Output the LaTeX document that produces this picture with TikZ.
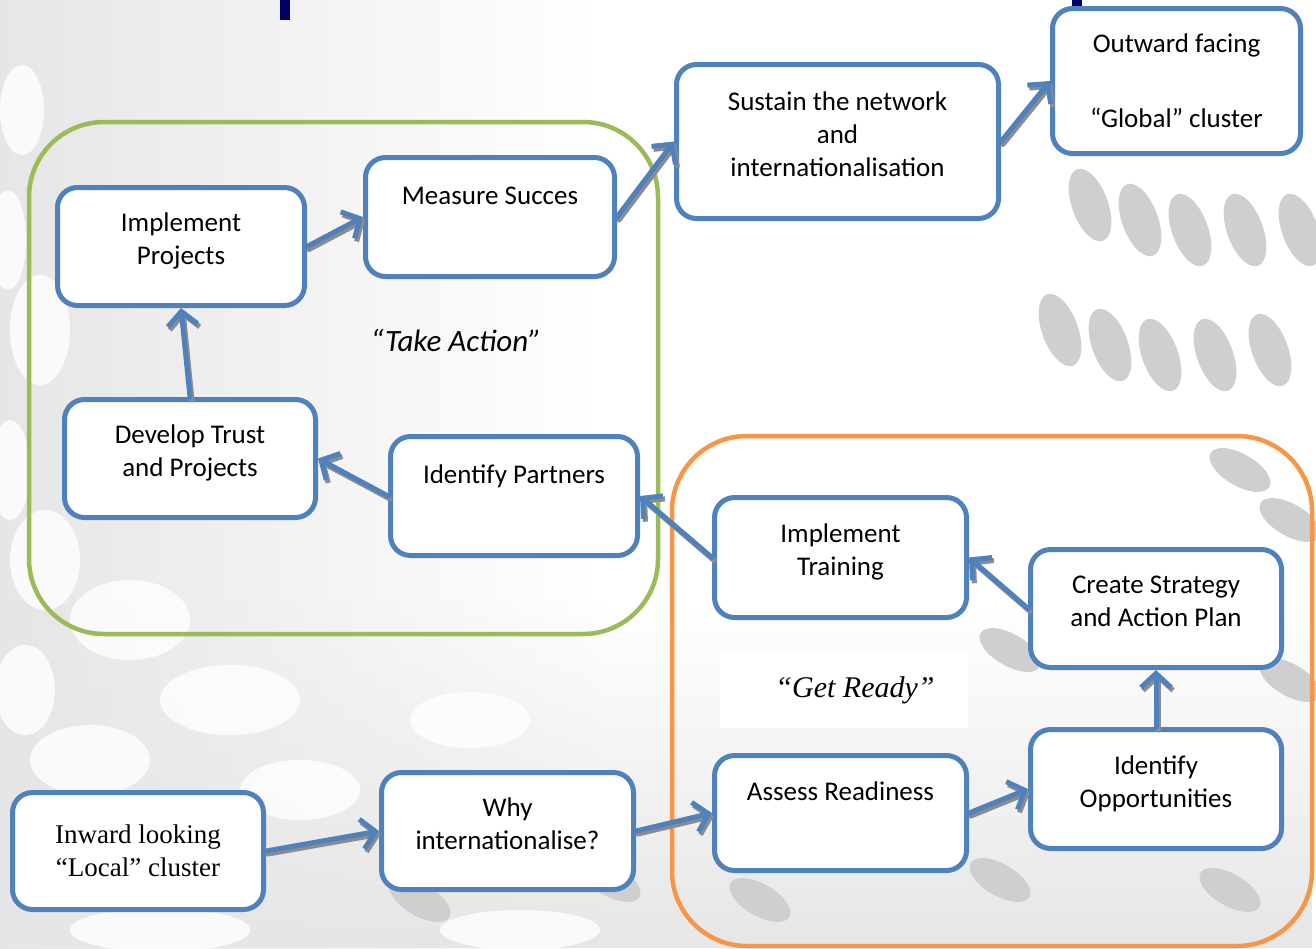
\documentclass[tikz,border=0pt]{standalone}
\usepackage{fontspec}
\setmainfont{Carlito}
\newfontfamily\timesfont{Liberation Serif}
\usetikzlibrary{arrows.meta,fadings}

\definecolor{boxblue}{HTML}{4F81BD}
\definecolor{framegreen}{HTML}{9BBB59}
\definecolor{frameorange}{HTML}{F79646}
\definecolor{titlenavy}{HTML}{000066}
\definecolor{shadowgray}{HTML}{8C8C8C}
\definecolor{dotgray}{HTML}{CFCFCF}
\definecolor{pale}{HTML}{E6E6E6}

\tikzset{
  stepbox/.style={draw=boxblue, line width=5pt, rounded corners=20pt, fill=white,
    align=center, inner sep=0pt, font=\fontsize{27}{33}\selectfont},
  lift/.style={text depth=15pt},
  flow/.style={draw=boxblue, line width=5pt, line cap=round,
    -{Straight Barb[length=14pt,width=30pt]}},
  flowshadow/.style={flow, draw=shadowgray, transform canvas={shift={(2pt,-3pt)}}},
  frame/.style={line width=4.5pt, rounded corners=75pt},
  blob/.style={fill=white, opacity=0.8},
  spot/.style={fill=dotgray},
}

\begin{document}
\begin{tikzpicture}[x=1pt,y=-1pt]
\useasboundingbox (0,0) rectangle (1316,948);

% backdrop: pale field with soft ovals on the left, grey ovals on the right
\shade[left color=pale, right color=white] (0,0) rectangle (600,948);
\fill[pale, path fading=north] (0,600) rectangle (1316,948);
\foreach \x/\y/\rx/\ry in {22/110/22/45, 8/240/18/50, 40/330/30/55, 10/470/20/50,
  45/560/35/50, 130/620/60/40, 230/700/70/35, 90/760/60/35, 300/790/60/30,
  25/690/30/45, 470/720/60/28, 160/930/90/22, 520/930/80/20}
  \fill[blob] (\x,\y) ellipse[x radius=\rx, y radius=\ry];
\foreach \x/\y in {1090/205, 1140/220, 1190/230, 1245/230, 1300/230,
  1060/330, 1110/345, 1160/355, 1215/355, 1270/350}
  \fill[spot, rotate around={20:(\x,\y)}] (\x,\y) ellipse[x radius=18, y radius=38];
\foreach \x/\y in {1240/470, 1290/520, 1010/650, 1290/680, 760/900, 1000/880, 1230/890, 420/900, 610/880}
  \fill[spot, rotate around={-30:(\x,\y)}] (\x,\y) ellipse[x radius=34, y radius=16];

% fragments of the heading above the chart
\fill[titlenavy] (280,0) rectangle (290,20);
\fill[titlenavy] (1072,0) rectangle (1082,8);

% the two phase frames
\draw[frame, framegreen] (29,122) rectangle (658,634);
\draw[frame, frameorange] (672,436) rectangle (1312,946);

\node[font=\itshape\fontsize{31}{36}\selectfont] (take) at (456,340) {“Take Action”};
\fill[white] (720,652) rectangle (968,728);
\node[font=\timesfont\itshape\fontsize{30}{36}\selectfont] (ready) at (855,690) {“Get Ready”};

% steps
\node[stepbox, minimum width=251, minimum height=117] (il) at (138,851)
  {\timesfont Inward looking\\\timesfont “Local” cluster};
\node[stepbox, lift, minimum width=252, minimum height=117] (wi) at (507.5,831)
  {Why\\internationalise?};
\node[stepbox, minimum width=252, minimum height=115] (ar) at (840.5,813)
  {Assess Readiness\\\strut};
\node[stepbox, lift, minimum width=251, minimum height=119] (io) at (1156,789)
  {Identify\\Opportunities};
\node[stepbox, lift, minimum width=251, minimum height=118] (cs) at (1156,608.5)
  {Create Strategy\\and Action Plan};
\node[stepbox, lift, minimum width=252, minimum height=120] (tr) at (840.5,557.5)
  {Implement\\Training};
\node[stepbox, minimum width=247, minimum height=119] (pa) at (514,496)
  {Identify Partners\\\strut};
\node[stepbox, lift, minimum width=251, minimum height=118] (dt) at (190,458.5)
  {Develop Trust\\and Projects};
\node[stepbox, lift, minimum width=247, minimum height=118] (ip) at (181,246.5)
  {Implement\\Projects};
\node[stepbox, minimum width=249, minimum height=119] (ms) at (490,217)
  {Measure Succes\\\strut};
\node[stepbox, lift, minimum width=322, minimum height=154] (su) at (837.5,141.5)
  {Sustain the network\\and\\internationalisation};
\node[stepbox, minimum width=248, minimum height=145] (of) at (1176.5,81)
  {Outward facing\\[42pt]“Global” cluster};

% connectors with their drop shadows
\foreach \a/\b in {il.east/wi.west, wi.east/ar.west, ar.east/io.west,
  io.north/cs.south, cs.west/tr.east, tr.west/pa.east, pa.west/dt.east,
  dt.north/ip.south, ip.east/ms.west, ms.east/su.west, su.east/of.west}
{
  \draw[flowshadow] (\a) -- (\b);
  \draw[flow] (\a) -- (\b);
}
\end{tikzpicture}
\end{document}
